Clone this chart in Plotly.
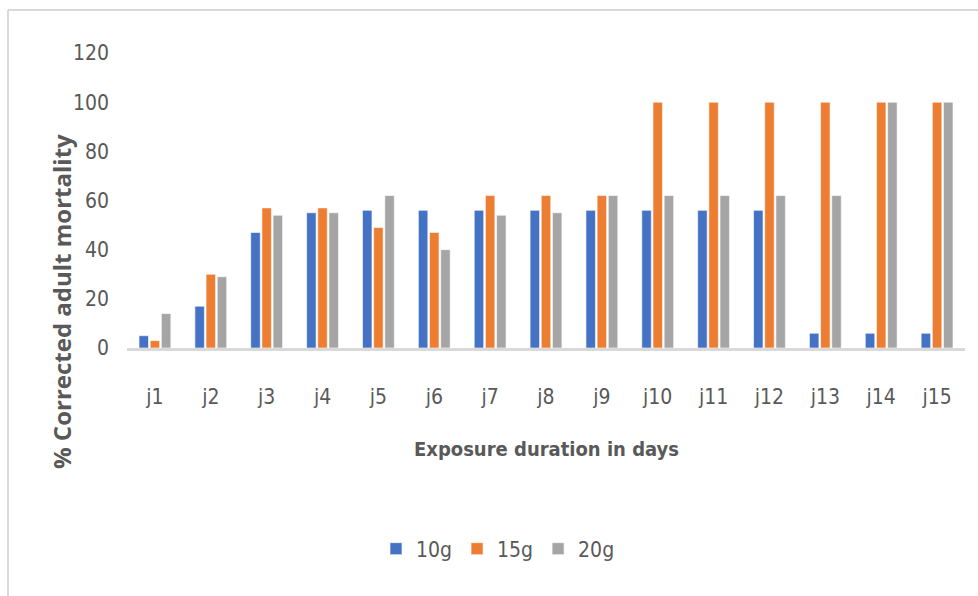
import plotly.graph_objects as go

# Exposure days and corrected adult mortality (%) for each dose
days = ["j1", "j2", "j3", "j4", "j5", "j6", "j7", "j8", "j9", "j10",
        "j11", "j12", "j13", "j14", "j15"]
dose_10g = [5, 17, 47, 55, 56, 56, 56, 56, 56, 56, 56, 56, 6, 6, 6]
dose_15g = [3, 30, 57, 57, 49, 47, 62, 62, 62, 100, 100, 100, 100, 100, 100]
dose_20g = [14, 29, 54, 55, 62, 40, 54, 55, 62, 62, 62, 62, 62, 100, 100]
y_ticks = [0, 20, 40, 60, 80, 100, 120]

TEXT = "#595959"
NARROW = "DejaVu Sans Condensed, Liberation Sans Narrow, Arial Narrow, sans-serif"
W, H = 978, 596
L, R, T, B = 127, 13, 53, 248
pw, ph = W - L - R, H - T - B


def px(x):
    return (x - L) / pw


def py(y):
    return (H - B - y) / ph


fig = go.Figure()
for name, vals, col in [("10g", dose_10g, "#4472C4"),
                        ("15g", dose_15g, "#ED7D31"),
                        ("20g", dose_20g, "#A5A5A5")]:
    fig.add_trace(go.Bar(x=days, y=vals, name=name,
                         marker=dict(color=col, line=dict(color="rgba(255,255,255,0.6)", width=1))))

fig.update_layout(
    width=W, height=H,
    margin=dict(l=L, r=R, t=T, b=B),
    paper_bgcolor="white", plot_bgcolor="white",
    barmode="group", bargap=0.40, bargroupgap=0.15,
    font=dict(family=NARROW, color=TEXT, size=21),
    showlegend=True,
    legend=dict(orientation="h", x=px(498), y=py(549), xanchor="center", yanchor="middle",
                font=dict(family=NARROW, size=21, color=TEXT), itemwidth=30, tracegroupgap=0),
    xaxis=dict(showgrid=False, showline=True, linecolor="#D9D9D9", linewidth=3,
               ticks="", ticklabelstandoff=28, tickfont=dict(family=NARROW, size=21, color=TEXT)),
    yaxis=dict(range=[0, 120], tickvals=y_ticks, showgrid=False, zeroline=False,
               showline=False, ticks="", ticklabelstandoff=17,
               tickfont=dict(family=NARROW, size=21, color=TEXT)),
    shapes=[
        dict(type="line", xref="paper", yref="paper", x0=px(8), x1=px(978), y0=py(10), y1=py(10),
             line=dict(color="#D9D9D9", width=2)),
        dict(type="line", xref="paper", yref="paper", x0=px(8), x1=px(8), y0=py(10), y1=py(596),
             line=dict(color="#D9D9D9", width=2)),
    ],
    annotations=[
        dict(text="<b>Exposure duration in days</b>", xref="paper", yref="paper",
             x=px(546), y=py(449), xanchor="center", yanchor="middle", showarrow=False,
             font=dict(family=NARROW, size=20, color=TEXT)),
        dict(text="<b>% Corrected adult mortality</b>", xref="paper", yref="paper",
             x=px(61), y=py(302), xanchor="center", yanchor="middle", showarrow=False,
             textangle=-90, font=dict(family="Open Sans", size=24, color=TEXT)),
    ],
)

fig.write_html("out.html")
